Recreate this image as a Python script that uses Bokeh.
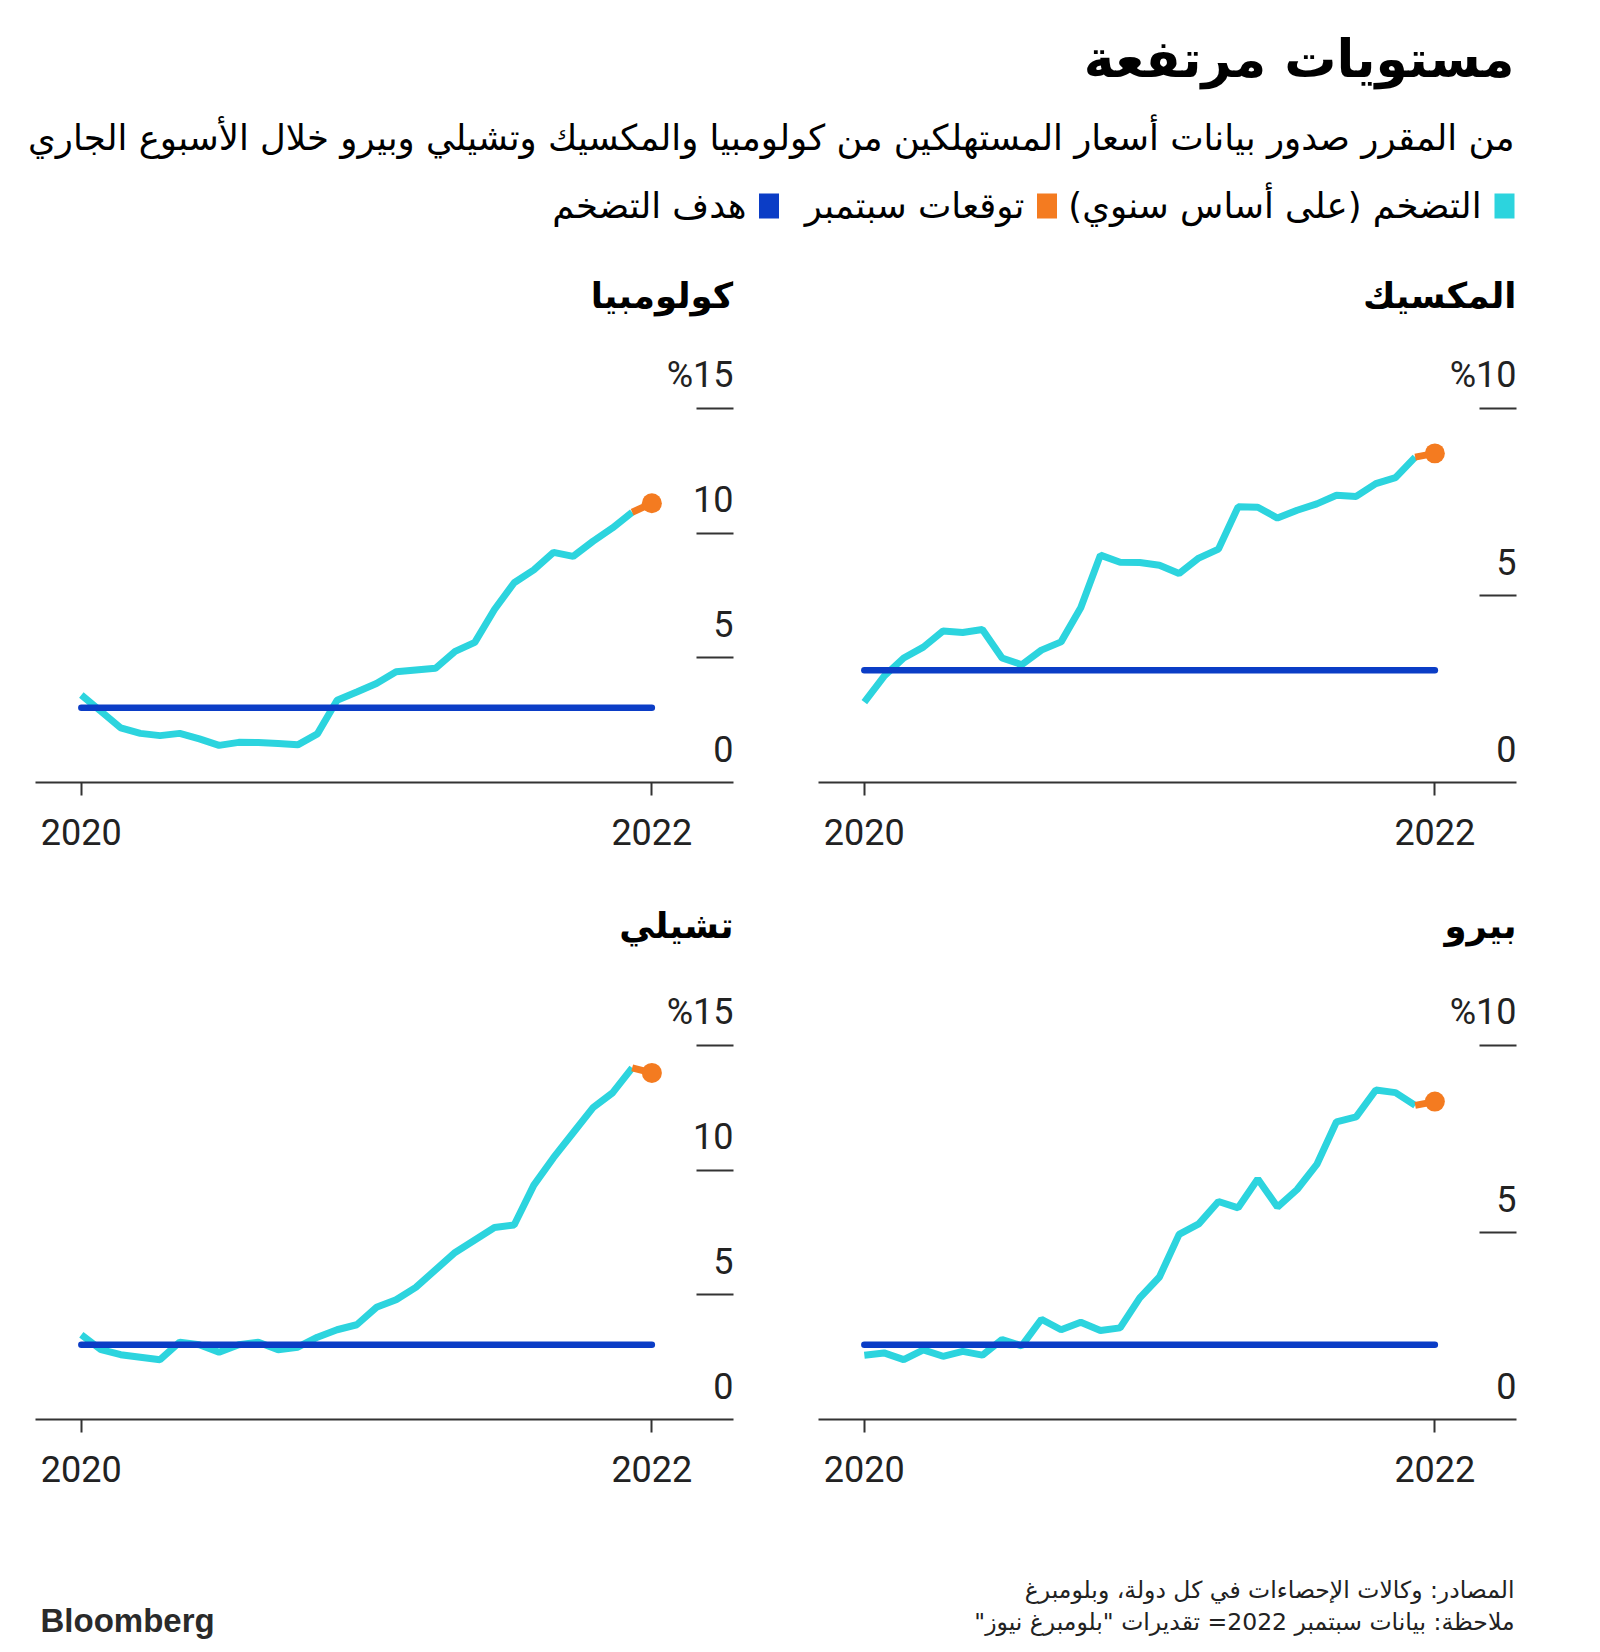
from bokeh.plotting import figure
from bokeh.layouts import column, row
from bokeh.models import Range1d, FixedTicker
from bokeh.core.properties import value
from bokeh.embed import file_html
from bokeh.resources import INLINE

# ---------------- data (Apr 2020 .. Sep 2022, last point = September forecast) ----------------
months = ["2020-04", "2020-05", "2020-06", "2020-07", "2020-08", "2020-09", "2020-10", "2020-11",
          "2020-12", "2021-01", "2021-02", "2021-03", "2021-04", "2021-05", "2021-06", "2021-07",
          "2021-08", "2021-09", "2021-10", "2021-11", "2021-12", "2022-01", "2022-02", "2022-03",
          "2022-04", "2022-05", "2022-06", "2022-07", "2022-08", "2022-09"]
year_ticks = [0, 29]
year_labels = ["2020", "2022"]

colombia = [3.51, 2.85, 2.19, 1.97, 1.88, 1.97, 1.75, 1.49, 1.61, 1.60, 1.56, 1.51, 1.95, 3.30, 3.63,
            3.97, 4.44, 4.51, 4.58, 5.26, 5.62, 6.94, 8.01, 8.53, 9.23, 9.07, 9.67, 10.21, 10.84, 11.2]
mexico = [2.15, 2.84, 3.33, 3.62, 4.05, 4.01, 4.09, 3.33, 3.15, 3.54, 3.76, 4.67, 6.08, 5.89, 5.88,
          5.81, 5.59, 6.00, 6.24, 7.37, 7.36, 7.07, 7.28, 7.45, 7.68, 7.65, 7.99, 8.15, 8.70, 8.80]
chile = [3.4, 2.8, 2.6, 2.5, 2.4, 3.1, 3.0, 2.7, 3.0, 3.1, 2.8, 2.9, 3.3, 3.6, 3.8,
         4.5, 4.8, 5.3, 6.0, 6.7, 7.2, 7.7, 7.8, 9.4, 10.5, 11.5, 12.5, 13.1, 14.1, 13.9]
peru = [1.72, 1.78, 1.60, 1.86, 1.69, 1.82, 1.72, 2.14, 1.97, 2.68, 2.40, 2.60, 2.38, 2.45, 3.25,
        3.81, 4.95, 5.23, 5.83, 5.66, 6.43, 5.68, 6.15, 6.82, 7.96, 8.09, 8.81, 8.74, 8.40, 8.5]

targets = {"colombia": 3.0, "mexico": 3.0, "chile": 3.0, "peru": 2.0}
ticks_15 = [0, 5, 10, 15]
labels_15 = ["0", "5", "10", "%15"]
ticks_10 = [0, 5, 10]
labels_10 = ["0", "5", "%10"]

title_text = "مستويات مرتفعة"
subtitle_text = "من المقرر صدور بيانات أسعار المستهلكين من كولومبيا والمكسيك وتشيلي وبيرو خلال الأسبوع الجاري"
legend_labels = ["التضخم (على أساس سنوي)", "توقعات سبتمبر", "هدف التضخم"]
panel_titles = {"colombia": "كولومبيا", "mexico": "المكسيك", "chile": "تشيلي", "peru": "بيرو"}
source_text = "المصادر: وكالات الإحصاءات في كل دولة، وبلومبرغ"
note_text = "ملاحظة: بيانات سبتمبر 2022= تقديرات \"بلومبرغ نيوز\""

# ---------------- style ----------------
RLM = "\u200f"
AR = "DejaVu Sans"
NUM = "Roboto"
CYAN = "#2CD4DE"
ORANGE = "#F47B20"
BLUE = "#0B3DC6"
INK = "#222222"

x_idx = list(range(len(months)))


def make_panel(key, vals, top, ticks, labels, border_l, border_r, width, title_off):
    frame_h = 532
    span = 374
    y_end = top * frame_h / span
    xs, xe = -2.33, 33.15
    p = figure(width=width, height=637, x_range=Range1d(xs, xe), y_range=Range1d(0, y_end),
               y_axis_location="right", output_backend="svg", toolbar_location=None,
               min_border_left=border_l, min_border_right=border_r, min_border_top=0,
               min_border_bottom=105)
    p.grid.visible = False
    p.outline_line_color = None
    p.background_fill_color = "white"

    xa = p.xaxis[0]
    xa.ticker = FixedTicker(ticks=year_ticks)
    xa.major_label_overrides = {t: l for t, l in zip(year_ticks, year_labels)}
    xa.major_tick_out = 13
    xa.major_tick_in = 0
    xa.minor_tick_line_color = None
    xa.axis_line_width = 2
    xa.axis_line_color = "#333333"
    xa.major_tick_line_width = 2
    xa.major_tick_line_color = "#333333"
    xa.major_label_text_font = NUM
    xa.major_label_text_font_size = "36px"
    xa.major_label_text_color = INK
    xa.major_label_standoff = 23

    ya = p.yaxis[0]
    ya.ticker = FixedTicker(ticks=[t for t in ticks if t != 0])
    ya.major_tick_in = 37
    ya.major_tick_out = 0
    ya.minor_tick_line_color = None
    ya.axis_line_color = None
    ya.major_tick_line_width = 2
    ya.major_tick_line_color = "#333333"
    ya.major_label_text_color = None
    ya.major_label_text_font_size = "1px"

    p.text(x=[xe] * len(ticks), y=ticks, text=labels, text_align="right", text_baseline="middle",
           y_offset=-34, text_font=value(NUM), text_font_size="36px", text_color=INK)
    p.text(x=[xe], y=[y_end], text=[panel_titles[key]], y_offset=title_off, text_align="right",
           text_baseline="middle", text_font=value(AR), text_font_style="bold",
           text_font_size="35.5px", text_color="black")

    p.line(x_idx[:-1], vals[:-1], line_color=CYAN, line_width=7)
    p.line([x_idx[0], x_idx[-1]], [targets[key]] * 2, line_color=BLUE, line_width=6.5, line_cap="round")
    p.line(x_idx[-2:], vals[-2:], line_color=ORANGE, line_width=7)
    p.scatter([x_idx[-1]], [vals[-1]], size=20, fill_color=ORANGE, line_color=None)
    return p


def canvas(h, y0):
    p = figure(width=1584, height=h, x_range=Range1d(0, 1584), y_range=Range1d(y0 + h, y0),
               x_axis_location=None, y_axis_location=None, output_backend="svg",
               toolbar_location=None, min_border=0)
    p.grid.visible = False
    p.outline_line_color = None
    return p


# header
hdr = canvas(250, 0)
hdr.text(x=[1514], y=[58], text=[title_text], text_align="right", text_baseline="middle",
         text_font=value(AR), text_font_style="bold", text_font_size="52px", text_color="black")
hdr.text(x=[1514], y=[137], text=[RLM + subtitle_text + RLM], text_align="right",
         text_baseline="middle", text_font=value(AR), text_font_size="35.5px", text_color="black")
sw_x = [1504, 1046.5, 768.5]
sw_c = [CYAN, ORANGE, BLUE]
hdr.rect(x=sw_x, y=[205.5] * 3, width=20, height=25, fill_color=sw_c, line_color=None)
hdr.text(x=[1481, 1024, 746], y=[205] * 3, text=[RLM + t + RLM for t in legend_labels],
         text_align="right", text_baseline="middle", text_font=value(AR), text_font_size="35.5px",
         text_color="black")

p_col = make_panel("colombia", colombia, 15, ticks_15, labels_15, 35, 57, 790, 45)
p_mex = make_panel("mexico", mexico, 10, ticks_10, labels_10, 28, 76, 802, 45)
p_chi = make_panel("chile", chile, 15, ticks_15, labels_15, 35, 57, 790, 38)
p_per = make_panel("peru", peru, 10, ticks_10, labels_10, 28, 76, 802, 38)

# footer
ftr = canvas(120, 1524)
ftr.text(x=[1514, 1514], y=[1589, 1621], text=[RLM + source_text + RLM, RLM + note_text + RLM],
         text_align="right", text_baseline="middle", text_font=value(AR), text_font_size="23.5px",
         text_color=INK)
ftr.text(x=[40], y=[1620], text=["Bloomberg"], text_align="left", text_baseline="middle",
         text_font=value("Liberation Sans"), text_font_style="bold", text_font_size="33px",
         text_color="#2a2a2a")

layout = column(hdr, row(p_col, p_mex), row(p_chi, p_per), ftr)
open("out.html", "w").write(file_html(layout, INLINE))
